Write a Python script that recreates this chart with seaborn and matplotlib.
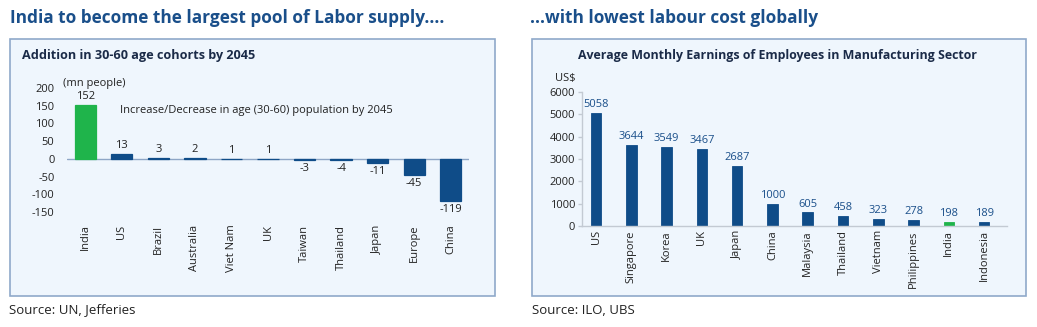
import matplotlib
matplotlib.use("Agg")
import matplotlib.pyplot as plt
import seaborn as sns
import pandas as pd
from matplotlib.patches import Rectangle

sns.set_theme(style="white")
plt.rcParams['font.family'] = ['Open Sans', 'DejaVu Sans']
plt.rcParams['axes.unicode_minus'] = False

# ---- data ----
left_cats = ["India", "US", "Brazil", "Australia", "Viet Nam", "UK", "Taiwan",
             "Thailand", "Japan", "Europe", "China"]
left_vals = [152, 13, 3, 2, 1, 1, -3, -4, -11, -45, -119]
left_ticks = [200, 150, 100, 50, 0, -50, -100, -150]

right_cats = ["US", "Singapore", "Korea", "UK", "Japan", "China", "Malaysia",
              "Thailand", "Vietnam", "Philippines", "India", "Indonesia"]
right_vals = [5058, 3644, 3549, 3467, 2687, 1000, 605, 458, 323, 278, 198, 189]
right_ticks = [0, 1000, 2000, 3000, 4000, 5000, 6000]

W, H = 1037, 327
BLUE = "#0f4c88"
GREEN = "#1fb44b"
TITLE = "#1a4f8a"
SUB = "#1b2b48"
BOXFC = "#eff6fd"
BOXEC = "#8fa9ca"

fig = plt.figure(figsize=(W / 100, H / 100), dpi=100)
fig.patch.set_facecolor("white")


def fx(px):
    return px / W


def fy(py):
    return 1 - py / H


def add_box(x0, x1, y0, y1):
    fig.patches.append(Rectangle((fx(x0), fy(y1)), fx(x1) - fx(x0), fy(y0) - fy(y1),
                                 transform=fig.transFigure, facecolor=BOXFC,
                                 edgecolor=BOXEC, linewidth=1.2, zorder=-5))


add_box(10, 495, 39, 296)
add_box(532, 1026, 39, 296)

fig.text(fx(10), fy(18), "India to become the largest pool of Labor supply....",
         fontsize=12.4, fontweight="bold", color=TITLE, va="center", ha="left")
fig.text(fx(530), fy(18), "...with lowest labour cost globally",
         fontsize=12.4, fontweight="bold", color=TITLE, va="center", ha="left")
fig.text(fx(22), fy(55), "Addition in 30-60 age cohorts by 2045",
         fontsize=9.1, fontweight="bold", color=SUB, va="center", ha="left")
fig.text(fx(777), fy(55), "Average Monthly Earnings of Employees in Manufacturing Sector",
         fontsize=8.9, fontweight="bold", color=SUB, va="center", ha="center")
fig.text(fx(9), fy(310), "Source: UN, Jefferies", fontsize=9.5, color="#222222",
         va="center", ha="left")
fig.text(fx(532), fy(310), "Source: ILO, UBS", fontsize=9.5, color="#222222",
         va="center", ha="left")

# ---- left chart ----
axL = fig.add_axes([fx(67), fy(212), fx(469) - fx(67), fy(88) - fy(212)])
axL.set_zorder(2)
axL.set_facecolor("none")
dfL = pd.DataFrame({"cat": left_cats, "val": left_vals})
palL = {c: (GREEN if c == "India" else BLUE) for c in left_cats}
sns.barplot(data=dfL, x="cat", y="val", hue="cat", palette=palL, legend=False,
            width=0.58, ax=axL, saturation=1)
for p in axL.patches:
    p.set_edgecolor(p.get_facecolor())
    p.set_linewidth(0.9)
axL.set_xlim(-0.5, 10.5)
axL.set_ylim(-150, 200)
axL.set_yticks(left_ticks)
axL.axhline(0, color="#8ea6c6", lw=1, zorder=0.5)
for s in axL.spines.values():
    s.set_visible(False)
axL.set_xlabel("")
axL.set_ylabel("")
axL.tick_params(axis="y", labelsize=8, length=0, pad=9, labelcolor="#222222")
axL.tick_params(axis="x", labelsize=8, length=0, pad=9, labelrotation=90,
                labelcolor="#222222")
for c in axL.containers:
    axL.bar_label(c, fmt="%d", fontsize=8, padding=2, color="#222222")
axL.text(-0.62, 212, "(mn people)", fontsize=8, color="#222222", ha="left",
         va="center", clip_on=False)
axL.text(0.95, 137, "Increase/Decrease in age (30-60) population by 2045",
         fontsize=8, color="#222222", ha="left", va="center")

# ---- right chart ----
axR = fig.add_axes([fx(582), fy(226), fx(1007) - fx(582), fy(92) - fy(226)])
axR.set_zorder(2)
axR.set_facecolor("none")
dfR = pd.DataFrame({"cat": right_cats, "val": right_vals})
palR = {c: (GREEN if c == "India" else BLUE) for c in right_cats}
sns.barplot(data=dfR, x="cat", y="val", hue="cat", palette=palR, legend=False,
            width=0.3, ax=axR, saturation=1)
for p in axR.patches:
    p.set_edgecolor(p.get_facecolor())
    p.set_linewidth(0.6)
axR.set_xlim(-0.4, 11.65)
axR.set_ylim(0, 6000)
axR.set_yticks(right_ticks)
for k in ["top", "right"]:
    axR.spines[k].set_visible(False)
for k in ["left", "bottom"]:
    axR.spines[k].set_color("#c3cad3")
    axR.spines[k].set_linewidth(1)
axR.set_xlabel("")
axR.set_ylabel("")
axR.tick_params(axis="y", labelsize=8, length=3, width=1, color="#c3cad3",
                pad=2, labelcolor="#222222", left=True)
axR.tick_params(axis="x", labelsize=8, length=0, pad=3, labelrotation=90,
                labelcolor="#222222")
for c in axR.containers:
    axR.bar_label(c, fmt="%d", fontsize=8, padding=2, color=TITLE)
fig.text(fx(576), fy(78), "US$", fontsize=8, color="#222222", ha="right", va="center")

fig.savefig("out.png", dpi=100, facecolor="white")
